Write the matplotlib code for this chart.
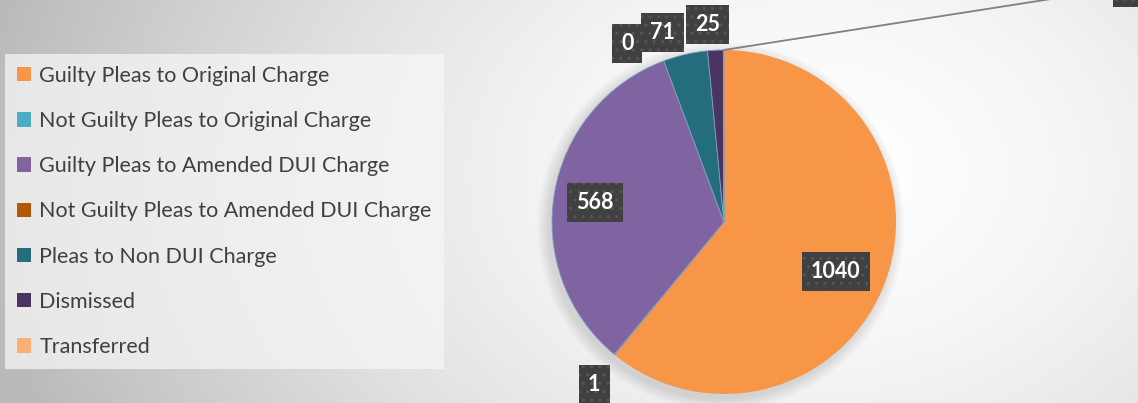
import numpy as np
import matplotlib.pyplot as plt
from matplotlib.patches import Patch, Circle

categories = ['Guilty Pleas to Original Charge', 'Not Guilty Pleas to Original Charge',
              'Guilty Pleas to Amended DUI Charge', 'Not Guilty Pleas to Amended DUI Charge',
              'Pleas to Non DUI Charge', 'Dismissed', 'Transferred']
values = [1040, 1, 568, 0, 71, 25, 1]
colors = ['#F79646', '#4BACC6', '#8064A2', '#B65708', '#236D7D', '#4A3461', '#F9B074']

W, H = 1138, 403
fig = plt.figure(figsize=(W / 100, H / 100), dpi=100)

# background: soft radial gradient
bg = fig.add_axes([0, 0, 1, 1], zorder=0)
yy, xx = np.mgrid[0:H, 0:W]
d = np.sqrt(((xx - 820) / 700.0) ** 2 + ((yy - 230) / 520.0) ** 2)
shade = 1.0 - 0.2 * np.clip(d, 0, 1.2) ** 1.6
bg.imshow(np.dstack([shade] * 3), extent=[0, W, 0, H], origin='lower', aspect='auto')
bg.axis('off')

ax = fig.add_axes([0, 0, 1, 1], zorder=1)
cx, cy, R = 724, 181, 172

# soft shadow behind the pie
for i in range(10):
    ax.add_patch(Circle((cx - 3, cy - 4), R + 12 - i * 1.2, color='#000000', alpha=0.012, lw=0))

wedges, _ = ax.pie(values, colors=colors, startangle=90, counterclock=False,
                   center=(cx, cy), radius=R, frame=True,
                   wedgeprops=dict(linewidth=0.6, edgecolor='#7f9fc0'))
wedges[0].set_edgecolor('none')
ax.set_xlim(0, W)
ax.set_ylim(0, H)
ax.set_aspect('equal')
ax.axis('off')

# label placement: (radius factor, angle shift in degrees)
place = [(0.71, -4), (1.21, 1), (0.76, 1), (1.18, 8), (1.16, 5), (1.15, 2)]
box = dict(boxstyle='square,pad=0.42', facecolor='#404040', edgecolor='#565656',
           hatch='..', linewidth=0)
for w, v, (rf, sh) in zip(wedges, values, place):
    a = np.deg2rad((w.theta1 + w.theta2) / 2 + sh)
    x, y = cx + rf * R * np.cos(a), cy + rf * R * np.sin(a)
    ax.text(x, y, str(v), ha='center', va='center', fontsize=15.5, color='white',
            fontfamily='Lato', fontweight='bold', bbox=box)

# transferred label sits outside the top right corner, joined by a leader line
w = wedges[-1]
a = np.deg2rad((w.theta1 + w.theta2) / 2)
ax.annotate(str(values[-1]), xy=(cx + R * np.cos(a), cy + R * np.sin(a)),
            xytext=(1128, H + 13), ha='center', va='center', fontsize=15.5,
            color='white', fontfamily='Lato', fontweight='bold', bbox=box,
            arrowprops=dict(arrowstyle='-', color='#808080', lw=1.3,
                            shrinkA=0, shrinkB=0), annotation_clip=False)

handles = [Patch(facecolor=c, edgecolor='none') for c in colors]
leg = fig.legend(handles, categories, loc='upper left', bbox_to_anchor=(5 / W, 1 - 54 / H),
                 frameon=True, fancybox=False, labelspacing=1.17,
                 handlelength=0.65, handleheight=0.65, handletextpad=0.4,
                 borderpad=0.55, borderaxespad=0,
                 prop=dict(family='Lato', size=15.5))
leg.get_frame().set_facecolor('#f6f6f6')
leg.get_frame().set_alpha(0.75)
leg.get_frame().set_linewidth(0)
for t in leg.get_texts():
    t.set_color('#404040')

fig.savefig('out.png', dpi=100)
